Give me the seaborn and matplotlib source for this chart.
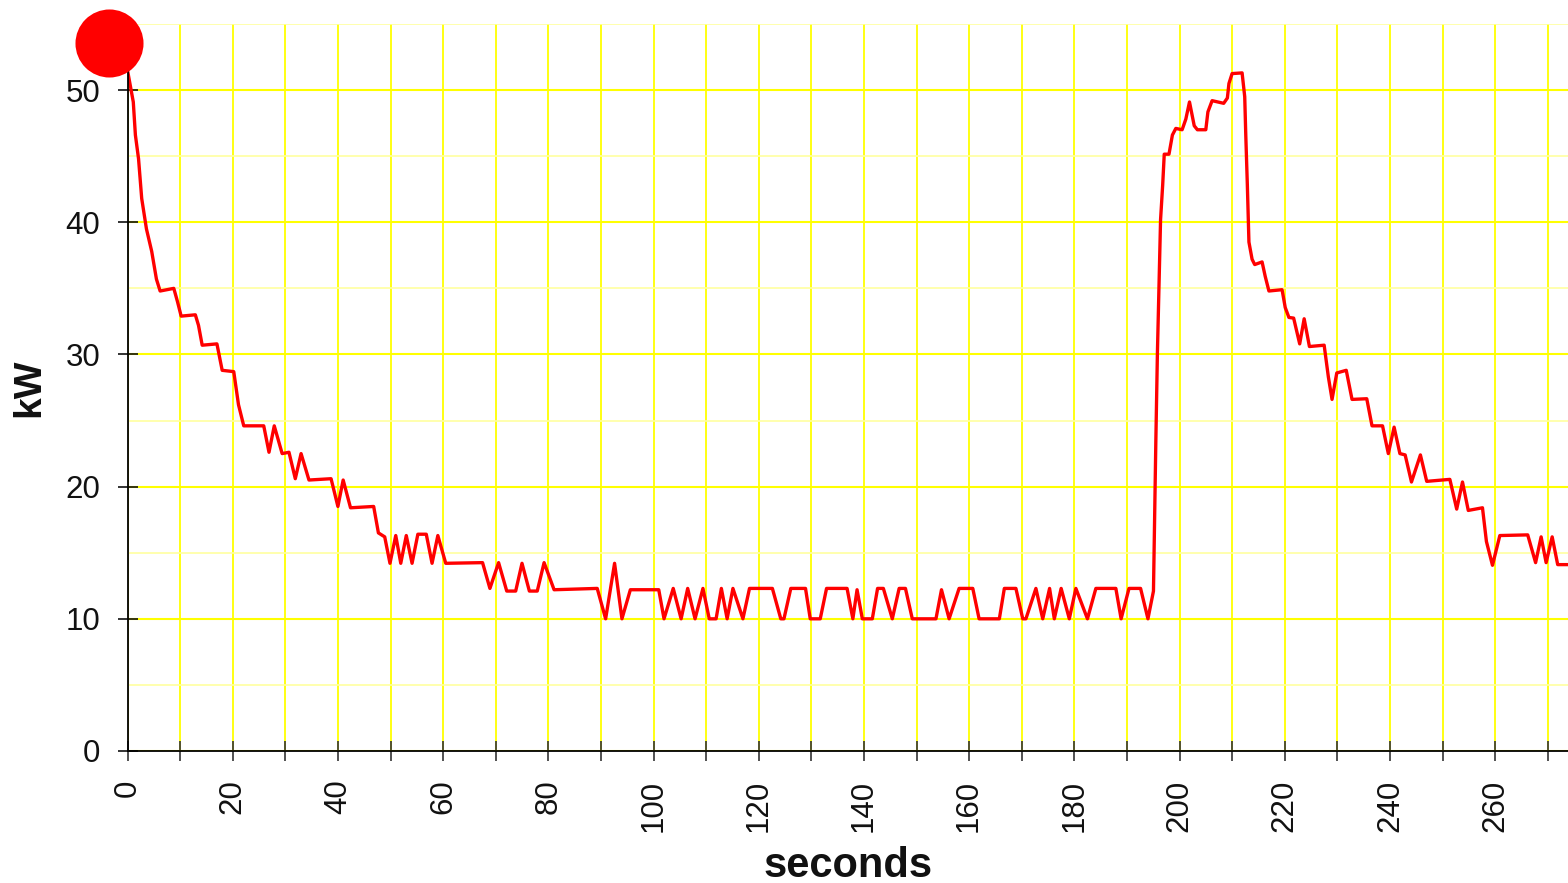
import numpy as np
import pandas as pd
import matplotlib
matplotlib.use("Agg")
import matplotlib.pyplot as plt
from matplotlib.ticker import MultipleLocator
import seaborn as sns

# ---- data ----
seconds = [0, 1.1, 1.5, 2.1, 2.7, 3.6, 4.6, 5.5, 6.2, 8.8, 9.5, 10.2, 12.9, 13.5, 14.2,
           17.0, 18.0, 20.2, 21.1, 22.1, 25.9, 26.9, 27.9, 29.4, 30.7, 31.9, 33.0, 34.5,
           38.7, 40.0, 41.0, 42.4, 46.8, 47.7, 48.9, 49.9, 51.0, 51.95, 53.0, 54.1, 55.2,
           56.8, 57.9, 59.0, 60.5, 67.5, 68.9, 70.55, 72.1, 73.8, 75.0, 76.4, 77.9, 79.2,
           81.1, 89.3, 90.9, 92.6, 94.0, 95.6, 101.0, 102.0, 103.75, 105.25, 106.5, 107.9,
           109.4, 110.6, 111.9, 112.9, 114.0, 115.1, 117.0, 118.25, 122.6, 124.2, 124.8,
           126.1, 128.9, 129.8, 131.7, 132.9, 136.8, 137.9, 138.7, 139.7, 141.6, 142.6,
           143.7, 145.4, 146.7, 147.9, 149.2, 153.7, 154.75, 156.2, 158.1, 160.7, 161.9,
           165.75, 166.7, 168.9, 170.2, 170.8, 172.7, 174.0, 175.3, 176.2, 177.5, 179.05,
           180.3, 182.5, 184.1, 187.9, 188.9, 190.4, 192.6, 194.0, 195.05, 195.5, 195.8,
           196.1, 196.4, 196.8, 197.1, 198.0, 198.65, 199.3, 200.5, 201.2, 201.9, 202.8,
           203.4, 205.0, 205.4, 206.2, 208.4, 209.1, 209.4, 210.0, 211.9, 212.4, 212.6,
           212.9, 213.2, 213.8, 214.3, 215.7, 216.3, 217.0, 219.5, 220.1, 220.8, 221.7,
           222.85, 223.7, 224.7, 227.5, 228.3, 229.0, 229.9, 231.7, 232.8, 235.6, 236.6,
           238.6, 239.7, 240.8, 241.9, 242.9, 244.1, 245.8, 247.0, 251.4, 252.7, 253.8,
           254.9, 257.6, 258.35, 259.5, 260.9, 266.2, 267.7, 268.75, 269.7, 270.85, 271.9,
           274.0]
kw = [51.5, 49.1, 46.6, 44.8, 41.8, 39.5, 37.8, 35.7, 34.8, 35.0, 34.0, 32.9, 33.0, 32.2, 30.7,
      30.8, 28.8, 28.7, 26.2, 24.6, 24.6, 22.6, 24.6, 22.5, 22.6, 20.6, 22.5, 20.5,
      20.6, 18.5, 20.5, 18.4, 18.5, 16.5, 16.2, 14.2, 16.3, 14.2, 16.3, 14.2, 16.4,
      16.4, 14.2, 16.3, 14.2, 14.25, 12.3, 14.25, 12.1, 12.1, 14.2, 12.1, 12.1, 14.25,
      12.2, 12.3, 10.0, 14.2, 10.0, 12.2, 12.2, 10.0, 12.3, 10.0, 12.3, 10.0,
      12.3, 10.0, 10.0, 12.3, 10.0, 12.3, 10.0, 12.3, 12.3, 10.0, 10.0,
      12.3, 12.3, 10.0, 10.0, 12.3, 12.3, 10.0, 12.2, 10.0, 10.0, 12.3,
      12.3, 10.0, 12.3, 12.3, 10.0, 10.0, 12.2, 10.0, 12.3, 12.3, 10.0,
      10.0, 12.3, 12.3, 10.0, 10.0, 12.3, 10.0, 12.3, 10.0, 12.3, 10.0,
      12.3, 10.0, 12.3, 12.3, 10.0, 12.3, 12.3, 10.0, 12.1, 23.4, 30.1,
      35.0, 40.2, 42.8, 45.15, 45.15, 46.6, 47.1, 47.0, 47.8, 49.1, 47.3,
      47.0, 47.0, 48.35, 49.2, 49.0, 49.4, 50.5, 51.25, 51.3, 49.5, 46.6,
      42.8, 38.5, 37.2, 36.8, 37.0, 35.9, 34.8, 34.9, 33.55, 32.8, 32.75,
      30.8, 32.7, 30.6, 30.7, 28.3, 26.6, 28.6, 28.8, 26.6, 26.65, 24.6,
      24.6, 22.5, 24.5, 22.5, 22.4, 20.35, 22.4, 20.4, 20.55, 18.3, 20.35,
      18.2, 18.4, 15.85, 14.05, 16.3, 16.35, 14.25, 16.2, 14.25, 16.2, 14.1,
      14.1]

marker_x = [-3.6]
marker_y = [53.6]

x_ticks = list(range(0, 280, 10))
x_labels = [str(v) if v % 20 == 0 else "" for v in x_ticks]
y_ticks = [0, 10, 20, 30, 40, 50]
y_labels = ["0", "10", "20", "30", "40", "50"]

df = pd.DataFrame({"seconds": seconds, "kW": kw})
dot = pd.DataFrame({"x": marker_x, "y": marker_y})

sns.set_theme(style="white")
plt.rcParams["font.family"] = ["Liberation Sans", "DejaVu Sans"]

W, H = 1568, 883
fig = plt.figure(figsize=(W / 100, H / 100), dpi=100)
ax = fig.add_axes([127.5 / W, 132 / H, (W - 127.5) / W, 727 / H])

sns.lineplot(data=df, x="seconds", y="kW", color="#ff0000", linewidth=2.4,
             ax=ax, zorder=3, estimator=None, sort=False,
             solid_joinstyle="round", solid_capstyle="round")
sns.scatterplot(data=dot, x="x", y="y", color="#ff0000", s=2400, linewidth=0,
                ax=ax, zorder=5, clip_on=False, legend=False)

ax.set_xlim(0, (W - 127.5) / 5.26)
ax.set_ylim(0, 55)

ax.set_xticks(x_ticks)
ax.set_xticklabels(x_labels, rotation=90)
ax.set_yticks(y_ticks)
ax.set_yticklabels(y_labels)
ax.yaxis.set_minor_locator(MultipleLocator(5))

ax.set_axisbelow(True)
ax.grid(True, which="major", axis="x", color="#ffff00", linewidth=1.3)
ax.grid(True, which="major", axis="y", color="#ffff00", linewidth=1.5)
ax.grid(True, which="minor", axis="y", color="#ffffa0", linewidth=1.2)

for side in ["top", "right"]:
    ax.spines[side].set_visible(False)
for side in ["left", "bottom"]:
    ax.spines[side].set_color("#000000")
    ax.spines[side].set_linewidth(1.3)
    ax.spines[side].set_zorder(4)

ax.tick_params(axis="x", which="major", bottom=True, direction="inout", length=15,
               width=1.2, color="#333333", labelsize=22.5, pad=13, labelcolor="#111111")
ax.tick_params(axis="y", which="major", left=True, direction="inout", length=15,
               width=1.2, color="#111111", labelsize=22.5, pad=12, labelcolor="#111111")
ax.tick_params(axis="y", which="minor", left=False, length=0)

ax.set_xlabel("seconds", fontsize=30, fontweight="bold", labelpad=10, color="#111111")
ax.set_ylabel("kW", fontsize=28, fontweight="bold", labelpad=13, color="#111111")

fig.savefig("out.png", dpi=100)
